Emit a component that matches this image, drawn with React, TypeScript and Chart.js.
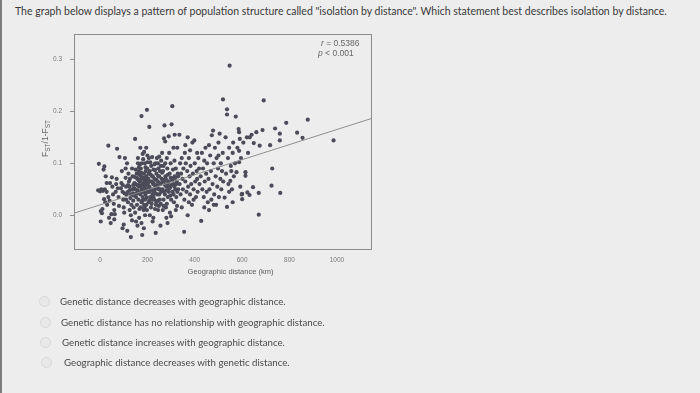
import React, { useEffect, useRef } from "react";
import { Chart, registerables } from "chart.js";

Chart.register(...registerables);

const questionText =
  'The graph below displays a pattern of population structure called "isolation by distance". Which statement best describes isolation by distance.';

const answerOptions = [
  "Genetic distance decreases with geographic distance.",
  "Genetic distance has no relationship with geographic distance.",
  "Genetic distance increases with geographic distance.",
  "Geographic distance decreases with genetic distance.",
];

const xAxisTitle = "Geographic distance (km)";
const xTickValues = [0, 200, 400, 600, 800, 1000];
const yTickValues = [0, 0.1, 0.2, 0.3];
const xRange = [-110, 1144];
const yRange = [-0.065, 0.349];

const fitX = [-110, 1144];
const fitY = [0.004, 0.186];

const statR = "0.5386";
const statP = "0.001";

type Pt = [number, number];

const pointsUnder80: Pt[] = [
  [-5, 0.099], [-8, 0.048], [0, 0.046], [5, 0.05], [12, 0.047], [20, 0.05], [28, 0.045], [3, 0.008],
  [8, 0.004], [3, -0.012], [10, 0.012], [17, 0.031], [22, 0.025], [30, 0.02], [35, 0.035], [40, 0.028],
  [45, -0.015], [15, 0.088], [18, 0.094], [24, 0.075], [28, 0.062], [35, 0.134], [50, 0.073], [52, 0.055],
  [55, 0.04], [58, 0.022], [60, 0.01], [62, 0.002], [66, 0.045], [70, 0.07], [72, 0.128], [75, 0.052],
  [78, 0.035], [80, 0.018], [38, -0.005], [48, 0.002], [60, -0.008], [68, 0.06], [42, 0.062],
];

const points80to140: Pt[] = [
  [82, 0.112], [90, 0.062], [95, 0.045], [98, 0.03], [100, 0.015], [102, 0.005], [105, 0.11], [108, 0.072],
  [110, 0.055], [112, 0.04], [115, -0.03], [118, 0.025], [120, 0.08], [122, 0.065], [125, 0.048], [128, 0.033],
  [130, -0.042], [132, 0.02], [95, -0.025], [100, -0.018], [135, 0.09], [138, 0.075], [140, 0.058], [108, 0.09],
  [114, 0.1], [125, 0.01], [130, 0.0], [135, -0.01], [140, 0.042], [88, 0.052], [92, 0.085], [118, 0.058],
  [126, 0.07], [140, 0.028], [118, 0.045], [124, 0.055], [130, 0.04], [136, 0.05], [110, 0.03], [104, 0.042],
  [96, 0.058],
];

const points140to200: Pt[] = [
  [142, 0.015], [145, 0.062], [148, 0.147], [150, 0.05], [152, 0.035], [155, 0.08], [156, 0.02], [158, 0.07],
  [160, 0.045], [160, 0.1], [162, 0.03], [163, 0.085], [165, 0.055], [166, 0.012], [168, 0.065], [170, 0.04],
  [170, 0.13], [172, 0.09], [173, 0.075], [175, 0.191], [175, 0.025], [176, 0.05], [178, 0.06], [178, -0.038],
  [180, 0.035], [180, 0.118], [182, 0.07], [183, 0.045], [185, 0.08], [186, 0.02], [188, 0.055], [189, 0.1],
  [190, 0.03], [190, 0.065], [192, 0.04], [193, 0.085], [195, 0.075], [195, 0.13], [196, 0.05], [198, 0.203],
  [198, 0.01], [200, 0.06], [148, 0.005], [152, -0.012], [158, -0.02], [165, -0.005], [175, -0.015], [185, -0.025],
  [190, 0.0], [160, 0.11], [168, 0.098], [182, 0.108], [150, 0.088], [145, 0.074], [155, 0.042], [170, 0.057],
  [186, 0.045], [192, 0.092], [178, 0.028], [163, 0.067], [197, 0.034], [144, 0.052], [157, 0.058], [174, 0.082],
  [188, 0.015], [199, 0.09], [150, 0.06], [154, 0.072], [158, 0.048], [162, 0.058], [166, 0.078], [170, 0.068],
  [174, 0.045], [178, 0.052], [182, 0.062], [186, 0.072], [190, 0.048], [194, 0.058], [198, 0.068], [172, 0.015],
  [184, 0.01], [196, 0.02], [142, 0.038], [164, 0.092], [176, 0.1], [186, 0.122],
];

const points200to260: Pt[] = [
  [202, 0.045], [204, 0.07], [205, 0.025], [206, 0.11], [208, 0.17], [208, 0.055], [210, 0.085], [212, 0.035],
  [214, 0.065], [215, 0.015], [216, 0.095], [218, 0.05], [220, 0.075], [220, 0.112], [222, 0.04], [224, 0.06],
  [225, -0.005], [226, 0.088], [228, 0.03], [230, 0.07], [232, 0.05], [234, 0.1], [235, -0.034], [236, 0.02],
  [238, 0.08], [240, 0.058], [240, 0.11], [242, 0.04], [244, 0.065], [245, 0.01], [246, 0.09], [248, 0.05],
  [250, 0.075], [250, 0.113], [252, 0.03], [254, 0.06], [255, -0.02], [256, 0.095], [258, 0.045], [260, 0.07],
  [212, 0.102], [228, 0.045], [238, 0.025], [205, 0.08], [218, 0.022], [232, 0.087], [248, 0.018], [222, -0.012],
  [210, 0.0], [244, 0.1], [226, 0.062], [253, 0.085], [202, 0.062], [206, 0.052], [210, 0.045], [214, 0.078],
  [218, 0.065], [222, 0.075], [226, 0.035], [230, 0.058], [234, 0.042], [238, 0.068], [242, 0.055], [246, 0.075],
  [250, 0.04], [254, 0.05], [258, 0.062], [208, 0.028], [220, 0.03], [232, 0.012], [244, 0.028], [256, 0.022],
  [200, 0.102], [230, 0.098], [258, 0.105], [200, 0.115],
];

const points260to330: Pt[] = [
  [262, 0.12], [264, 0.05], [266, 0.085], [268, 0.03], [270, 0.148], [270, 0.065], [272, 0.173], [274, 0.04],
  [275, 0.1], [276, 0.075], [278, 0.015], [280, 0.055], [282, 0.11], [284, 0.09], [285, -0.015], [286, 0.035],
  [288, 0.065], [290, 0.045], [292, 0.12], [294, 0.08], [295, 0.005], [296, 0.055], [298, 0.1], [300, 0.03],
  [302, 0.175], [303, 0.07], [305, 0.21], [306, 0.045], [308, 0.088], [310, 0.06], [312, 0.025], [314, 0.105],
  [315, 0.075], [318, 0.05], [320, 0.09], [322, 0.035], [324, 0.065], [326, 0.13], [328, 0.08], [330, 0.05],
  [275, 0.142], [290, 0.152], [310, 0.13], [265, 0.01], [280, -0.005], [300, -0.002], [320, 0.01], [286, 0.06],
  [297, 0.038], [312, 0.072], [268, 0.095], [282, 0.022], [325, 0.018], [315, 0.155], [262, 0.082], [266, 0.068],
  [270, 0.045], [274, 0.058], [278, 0.07], [282, 0.048], [286, 0.078], [290, 0.065], [294, 0.052], [298, 0.072],
  [302, 0.058], [306, 0.068], [310, 0.04], [314, 0.055], [318, 0.072], [322, 0.06], [326, 0.045], [330, 0.075],
  [268, 0.018],
];

const points330to420: Pt[] = [
  [335, 0.155], [336, 0.06], [338, 0.1], [340, 0.04], [342, 0.08], [345, 0.11], [348, 0.07], [350, 0.05],
  [352, 0.09], [355, -0.032], [356, 0.03], [358, 0.12], [360, 0.065], [362, 0.1], [365, 0.045], [368, 0.085],
  [370, 0.15], [372, 0.055], [375, 0.11], [378, 0.075], [380, 0.04], [382, 0.095], [385, 0.06], [388, 0.02],
  [390, 0.14], [392, 0.08], [395, 0.05], [398, 0.144], [400, 0.1], [402, 0.065], [405, 0.035], [408, 0.085],
  [410, 0.07], [412, 0.045], [415, 0.11], [418, 0.09], [420, 0.06], [345, 0.015], [370, 0.0], [395, 0.03],
  [360, 0.135], [380, 0.125], [410, 0.12], [375, 0.025],
];

const points420to520: Pt[] = [
  [425, 0.075], [427, -0.011], [430, 0.12], [432, 0.05], [435, 0.09], [438, 0.035], [440, 0.105], [442, 0.065],
  [445, 0.13], [448, 0.08], [450, 0.045], [452, 0.1], [455, 0.025], [458, 0.07], [460, 0.135], [462, 0.05],
  [465, 0.115], [468, 0.085], [470, 0.03], [472, 0.154], [475, 0.06], [477, 0.163], [480, 0.1], [482, 0.04],
  [485, 0.13], [488, 0.075], [490, 0.02], [492, 0.11], [495, 0.055], [498, 0.09], [500, 0.14], [502, 0.035],
  [505, 0.157], [508, 0.07], [510, 0.1], [512, 0.05], [515, 0.085], [518, 0.12], [520, 0.065], [440, 0.015],
  [460, 0.01], [480, 0.02], [500, 0.115],
];

const points520to600: Pt[] = [
  [519, 0.223], [526, 0.034], [530, 0.15], [532, 0.08], [536, 0.204], [536, 0.194], [536, 0.016], [540, 0.11],
  [542, 0.06], [545, 0.13], [547, 0.288], [550, 0.066], [552, 0.095], [554, 0.085], [557, 0.05], [560, 0.12],
  [562, 0.14], [565, 0.075], [570, 0.1], [573, 0.19], [576, 0.083], [580, 0.13], [585, 0.166], [587, 0.16],
  [587, 0.124], [587, 0.102], [590, 0.147], [592, 0.055], [595, 0.11], [598, 0.04], [600, 0.041], [600, 0.031],
  [545, 0.045], [560, 0.025],
];

const pointsOver600: Pt[] = [
  [605, 0.14], [614, 0.083], [614, 0.076], [620, 0.15], [622, 0.044], [625, 0.12], [631, 0.039], [632, 0.15],
  [640, 0.155], [646, 0.054], [649, 0.139], [660, 0.16], [670, 0.043], [670, 0.001], [674, 0.134], [686, 0.164],
  [691, 0.221], [718, 0.135], [724, 0.057], [727, 0.09], [739, 0.167], [759, 0.157], [759, 0.144], [761, 0.043],
  [786, 0.178], [832, 0.159], [855, 0.149], [877, 0.184], [986, 0.144],
];

const allPoints: Pt[] = [
  ...pointsUnder80,
  ...points80to140,
  ...points140to200,
  ...points200to260,
  ...points260to330,
  ...points330to420,
  ...points420to520,
  ...points520to600,
  ...pointsOver600,
];

const CHART_FONT = "'Liberation Sans', Arial, sans-serif";

const overlayPlugin = {
  id: "overlay",
  afterDraw(chart: any) {
    const { ctx, chartArea: a } = chart;
    ctx.save();
    ctx.strokeStyle = "#8c8c8c";
    ctx.lineWidth = 1;
    ctx.strokeRect(Math.round(a.left) + 0.5, Math.round(a.top) + 0.5, Math.round(a.right - a.left), Math.round(a.bottom - a.top));

    ctx.fillStyle = "#666666";
    ctx.textBaseline = "middle";
    ctx.textAlign = "left";
    const drawStat = (sym: string, rest: string, x: number, y: number) => {
      ctx.font = `italic 8.5px ${CHART_FONT}`;
      ctx.fillText(sym, x, y);
      const w = ctx.measureText(sym).width;
      ctx.font = `8.5px ${CHART_FONT}`;
      ctx.fillText(rest, x + w, y);
    };
    drawStat("r", " = " + statR, a.right - 50, a.top + 10);
    drawStat("p", " < " + statP, a.right - 53, a.top + 20);

    const parts: [string, boolean][] = [["F", false], ["ST", true], ["/1-F", false], ["ST", true]];
    const big = `8.5px ${CHART_FONT}`;
    const small = `6.5px ${CHART_FONT}`;
    let total = 0;
    for (const [t, sub] of parts) {
      ctx.font = sub ? small : big;
      total += ctx.measureText(t).width;
    }
    ctx.translate(a.left - 29, (a.top + a.bottom) / 2 - 3);
    ctx.rotate(-Math.PI / 2);
    ctx.textBaseline = "alphabetic";
    let cx = -total / 2;
    for (const [t, sub] of parts) {
      ctx.font = sub ? small : big;
      ctx.fillText(t, cx, sub ? 5 : 3);
      cx += ctx.measureText(t).width;
    }
    ctx.restore();

    ctx.save();
    ctx.fillStyle = "#5a5a5a";
    ctx.font = `7.5px ${CHART_FONT}`;
    ctx.textAlign = "center";
    ctx.textBaseline = "middle";
    ctx.fillText(xAxisTitle, (a.left + a.right) / 2 + 8, a.bottom + 23);
    ctx.restore();
  },
};

function ScatterChart() {
  const ref = useRef<HTMLCanvasElement | null>(null);
  useEffect(() => {
    if (!ref.current) return;
    const chart = new Chart(ref.current, {
      type: "scatter",
      data: {
        datasets: [
          {
            label: "pairs",
            data: allPoints.map(([x, y]) => ({ x, y })),
            pointRadius: 2.1,
            pointBackgroundColor: "#4b4b59",
            pointBorderWidth: 0,
            order: 1,
          },
          {
            type: "line",
            label: "fit",
            data: fitX.map((x, i) => ({ x, y: fitY[i] })),
            borderColor: "#8e8e8e",
            borderWidth: 1,
            pointRadius: 0,
            showLine: true,
            fill: false,
            order: 0,
          } as any,
        ],
      },
      options: {
        animation: false,
        responsive: false,
        events: [],
        layout: { padding: { left: 32, right: 331, top: 34, bottom: 104 } },
        plugins: { legend: { display: false }, tooltip: { enabled: false } },
        scales: {
          x: {
            type: "linear",
            min: xRange[0],
            max: xRange[1],
            afterBuildTicks: (s: any) => {
              s.ticks = xTickValues.map((v) => ({ value: v }));
            },
            afterFit: (s: any) => {
              s.height = 40;
            },
            grid: { display: false, drawTicks: false },
            border: { display: false },
            ticks: {
              font: { family: CHART_FONT, size: 6.5 },
              color: "#7a7a7a",
              padding: 7,
              maxRotation: 0,
              autoSkip: false,
              callback: (v: any) => String(v),
            },
          },
          y: {
            type: "linear",
            min: yRange[0],
            max: yRange[1],
            afterBuildTicks: (s: any) => {
              s.ticks = yTickValues.map((v) => ({ value: v }));
            },
            afterFit: (s: any) => {
              s.width = 40;
            },
            grid: { display: true, drawOnChartArea: false, drawTicks: true, tickLength: 4, color: "#8c8c8c" },
            border: { display: false },
            ticks: {
              font: { family: CHART_FONT, size: 6.5 },
              color: "#7a7a7a",
              padding: 8,
              autoSkip: false,
              callback: (v: any) => Number(v).toFixed(1),
            },
          },
        },
      },
      plugins: [overlayPlugin],
    });
    return () => chart.destroy();
  }, []);
  return <canvas ref={ref} width={700} height={393} style={{ position: "absolute", left: 0, top: 0, width: 700, height: 393 }} />;
}

const optionTops = [294, 315, 335, 355];
const optionLefts = [60, 61, 62, 64];

export default function App() {
  return (
    <div
      style={{
        position: "fixed",
        left: 0,
        top: 0,
        width: 700,
        height: 393,
        overflow: "hidden",
        background: "#ededed",
        borderLeft: "2px solid #7d7d7d",
        boxSizing: "border-box",
      }}
    >
      <div
        style={{
          position: "absolute",
          left: 13,
          top: 4,
          fontFamily: "Lato, 'Open Sans', sans-serif",
          fontSize: 10.5,
          lineHeight: "14px",
          color: "#3a3a3a",
          whiteSpace: "nowrap",
        }}
      >
        {questionText}
      </div>
      <ScatterChart />
      {answerOptions.map((t, i) => (
        <div key={i}>
          <div
            style={{
              position: "absolute",
              left: 37 + i * 0.5,
              top: optionTops[i] + 2,
              width: 9,
              height: 9,
              borderRadius: "50%",
              border: "1px solid #d6d6d6",
              background: "#e8e8e8",
            }}
          />
          <div
            style={{
              position: "absolute",
              left: optionLefts[i] - 2,
              top: optionTops[i],
              fontFamily: "Lato, 'Open Sans', sans-serif",
              fontSize: 9.7,
              lineHeight: "14px",
              color: "#4a4a4a",
              whiteSpace: "nowrap",
            }}
          >
            {t}
          </div>
        </div>
      ))}
    </div>
  );
}
